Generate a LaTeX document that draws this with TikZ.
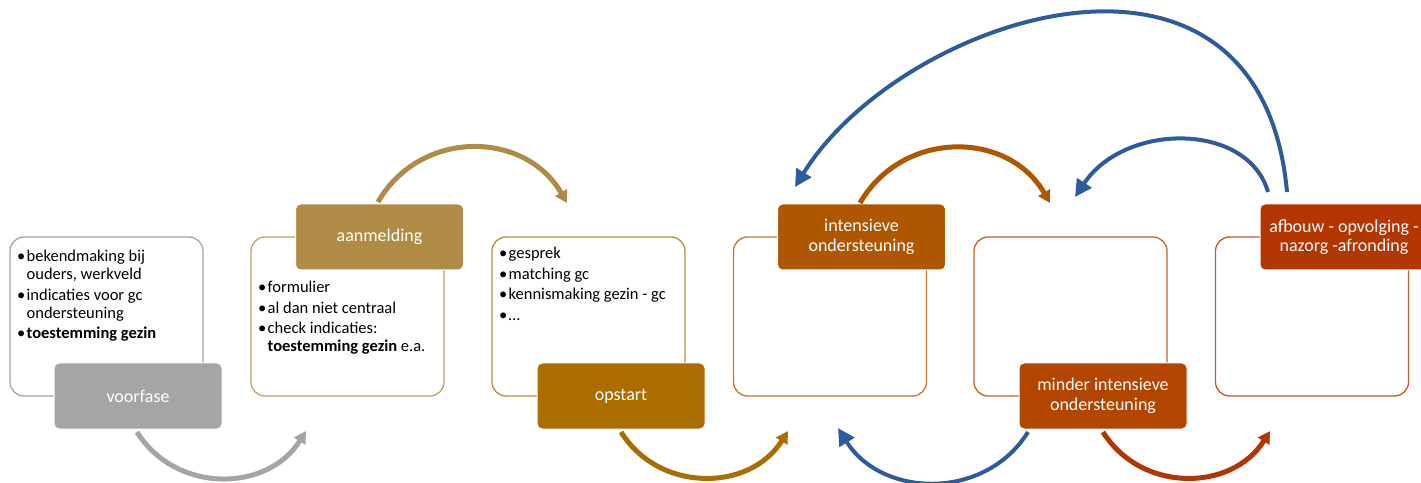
\documentclass[tikz,border=0pt]{standalone}
\usepackage{fontspec}
\setmainfont{Carlito}
\usetikzlibrary{arrows.meta}
\definecolor{cgray}{HTML}{A5A5A5}
\definecolor{caanm}{HTML}{AF8B46}
\definecolor{caanmL}{HTML}{C4A162}
\definecolor{copst}{HTML}{AB6C00}
\definecolor{copstL}{HTML}{BB8A3A}
\definecolor{cint}{HTML}{AE5700}
\definecolor{cintL}{HTML}{C4772F}
\definecolor{cmin}{HTML}{B24500}
\definecolor{cminL}{HTML}{C2642B}
\definecolor{cafb}{HTML}{B33600}
\definecolor{cafbL}{HTML}{C8582A}
\definecolor{cblue}{HTML}{2F5A9E}
\newenvironment{blist}{\begin{tabular}{@{}p{9.5pt}@{}l@{}}}{\end{tabular}}
\newcommand{\bu}{\textbullet}
\begin{document}
\begin{tikzpicture}[x=1pt,y=1pt,
  outl/.style={draw, line width=1.3pt, rounded corners=14pt, minimum width=193pt, minimum height=159pt, inner sep=0pt, fill=white},
  lbl/.style={draw=white, line width=1pt, rounded corners=5pt, minimum width=168pt, minimum height=66pt, inner sep=0pt, text=white, font=\fontsize{18}{19.5}\selectfont, align=center},
  btxt/.style={anchor=north west, inner sep=0pt, font=\fontsize{16.5}{18}\selectfont},
  arr/.style={line width=5pt, -{Triangle[length=12pt,width=13pt]}},
  barr/.style={line width=4pt, color=cblue, -{Triangle[length=17pt,width=17pt]}}
]
\useasboundingbox (0,0) rectangle (1421,482);
\clip (0,0) rectangle (1421,482);

% outline boxes
\node[outl, draw=cgray]   (vfo) at (106.5,165.5) {};
\node[outl, draw=caanmL]  (aao) at (347.5,165.5) {};
\node[outl, draw=copstL]  (opo) at (588.5,165.5) {};
\node[outl, draw=cintL]   (ino) at (830,165.5) {};
\node[outl, draw=cminL]   (mio) at (1070.5,165.5) {};
\node[outl, draw=cafbL]   (afo) at (1312,165.5) {};

% labels
\node[lbl, fill=cgray] (vf) at (138,86) {voorfase};
\node[lbl, fill=caanm] (aa) at (379.5,245) {aanmelding};
\node[lbl, fill=copst] (op) at (621,86) {opstart};
\node[lbl, fill=cint]  (in) at (861.5,245) {intensieve\\ondersteuning};
\node[lbl, fill=cmin]  (mi) at (1103,86) {minder intensieve\\ondersteuning};
\node[lbl, fill=cafb]  (af) at (1344,245) {afbouw - opvolging -\\nazorg -afronding};

% bullet texts
\node[btxt] (vft) at (17,233) {\begin{blist}
\bu & bekendmaking bij\\
    & ouders, werkveld\\[2.5pt]
\bu & indicaties voor gc\\
    & ondersteuning\\[2.5pt]
\bu & \textbf{toestemming gezin}
\end{blist}};
\node[btxt] (aat) at (258,202) {\begin{blist}
\bu & formulier\\[2.5pt]
\bu & al dan niet centraal\\[2.5pt]
\bu & check indicaties:\\
    & \textbf{toestemming gezin} e.a.
\end{blist}};
\node[btxt] (opt) at (499,236) {\begin{blist}
\bu & gesprek\\[2.5pt]
\bu & matching gc\\[2.5pt]
\bu & kennismaking gezin - gc\\[2.5pt]
\bu & \dots
\end{blist}};

% arrow end points
\coordinate (g1s) at (137,50);   \coordinate (g1e) at (306,51);
\coordinate (g2s) at (378,280);  \coordinate (g2e) at (567,279);
\coordinate (g3s) at (621,50);   \coordinate (g3e) at (788,51);
\coordinate (o1s) at (860,279);  \coordinate (o1e) at (1050,279);
\coordinate (r1s) at (1103,50);  \coordinate (r1e) at (1270,51);
\coordinate (b1s) at (1028,50);  \coordinate (b1e) at (838,54);
\coordinate (b2s) at (1268,290); \coordinate (b2e) at (1075,285);
\coordinate (b3s) at (1287,290); \coordinate (b3e) at (795,295);

\draw[arr, cgray] (g1s) to[out=-58, in=-122, looseness=1.1] (g1e);
\draw[arr, caanm] (g2s) to[out=60, in=120, looseness=1.14] (g2e);
\draw[arr, copst] (g3s) to[out=-58, in=-122, looseness=1.1] (g3e);
\draw[arr, cint]  (o1s) to[out=60, in=120, looseness=1.14] (o1e);
\draw[arr, cafb]  (r1s) to[out=-58, in=-122, looseness=1.1] (r1e);
\draw[barr] (b1s) to[out=-122, in=-58, looseness=1.1] (b1e);
\draw[barr] (b2s) .. controls (1248,360) and (1125,360) .. (b2e);
\draw[barr] (b3s) .. controls (1260,585) and (900,465) .. (b3e);
\end{tikzpicture}
\end{document}
